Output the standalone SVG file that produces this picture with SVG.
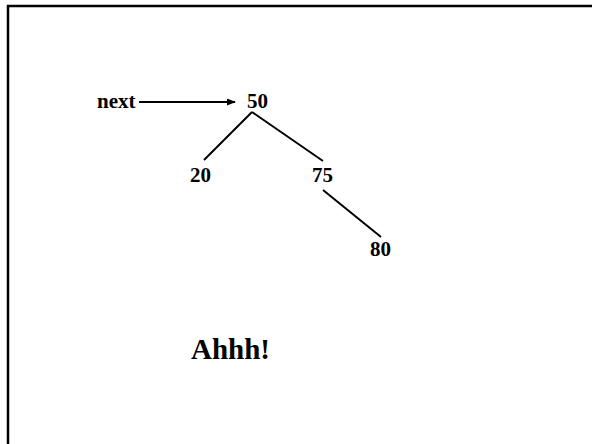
<svg xmlns="http://www.w3.org/2000/svg" width="592" height="444" viewBox="0 0 592 444">
  <style>
    .lbl { font-family: "Liberation Serif", "Times New Roman", serif; font-weight: bold; font-size: 21px; fill: #000; }
    .big { font-family: "Liberation Serif", "Times New Roman", serif; font-weight: bold; font-size: 29px; fill: #000; }
    .edge { stroke: #000; stroke-width: 2; fill: none; }
  </style>
  <defs>
    <marker id="arrow" markerWidth="9" markerHeight="8" refX="8" refY="3.5" orient="auto" markerUnits="userSpaceOnUse">
      <path d="M0,0 L9,3.5 L0,7 Z" fill="#000"/>
    </marker>
  </defs>
  <rect width="592" height="444" fill="#fff"/>
  <!-- frame: top and left edges only -->
  <path d="M8,444 V6 H592" stroke="#000" stroke-width="2.5" fill="none"/>

  <g id="connectors">
    <line class="edge" x1="139" y1="102" x2="235" y2="102" marker-end="url(#arrow)"/>
    <line class="edge" x1="252" y1="112" x2="204" y2="160"/>
    <line class="edge" x1="252" y1="112" x2="323" y2="161"/>
    <line class="edge" x1="323" y1="190" x2="381" y2="237"/>
  </g>

  <g id="next"><text class="lbl" x="97" y="108">next</text></g>
  <g id="n50"><text class="lbl" x="247" y="108">50</text></g>
  <g id="n20"><text class="lbl" x="190" y="182">20</text></g>
  <g id="n75"><text class="lbl" x="312" y="182">75</text></g>
  <g id="n80"><text class="lbl" x="370" y="256">80</text></g>
  <g id="caption"><text class="big" x="191" y="359">Ahhh!</text></g>
</svg>
